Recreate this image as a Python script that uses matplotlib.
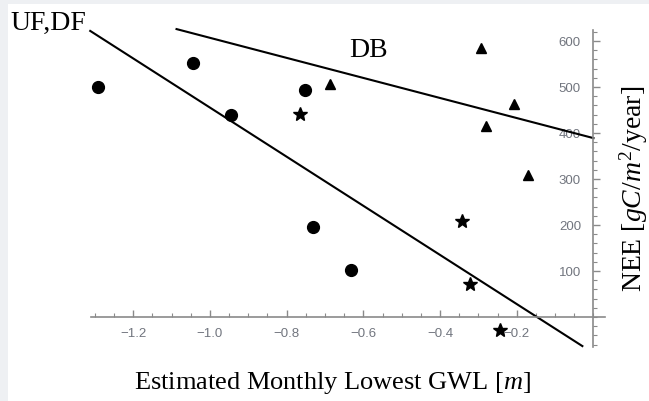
import numpy as np
import matplotlib
matplotlib.use("Agg")
import matplotlib.pyplot as plt
from matplotlib.patches import Rectangle
from matplotlib.ticker import MultipleLocator, FuncFormatter

plt.rcParams['mathtext.fontset'] = 'custom'
plt.rcParams['mathtext.rm'] = 'Liberation Serif'
plt.rcParams['mathtext.it'] = 'Liberation Serif:italic'

# UF,DF sites (circles)
circ_x = [-1.293, -1.043, -0.944, -0.751, -0.730, -0.631]
circ_y = [500, 552, 439, 493, 196, 102]
# DB sites (triangles)
tri_x = [-0.686, -0.292, -0.206, -0.279, -0.172]
tri_y = [507, 585, 463, 415, 309]
# stars
star_x = [-0.764, -0.344, -0.321, -0.245]
star_y = [441, 209, 72, -28]

# regression lines (end points)
ufdf_line_x = [-1.312, -0.029]
ufdf_line_y = [622, -63]
db_line_x = [-1.087, 0.0]
db_line_y = [626, 389]

xticks = [-1.2, -1.0, -0.8, -0.6, -0.4, -0.2]
yticks = [100, 200, 300, 400, 500, 600]

fig = plt.figure(figsize=(6.49, 4.01), dpi=100, facecolor='#eef0f3')
fig.patches.append(Rectangle((8/649, 0), 1, 1 - 4/401, transform=fig.transFigure,
                             facecolor='white', edgecolor='none', zorder=-10))

ax = fig.add_axes([91/649, 1 - 347/401, (605 - 91)/649, (347 - 30)/401])
ax.set_zorder(1)
ax.patch.set_alpha(0)
ax.set_xlim(-1.31, 0.03)
ax.set_ylim(-65, 624)

gray = '#8a8a8a'
for s in ['top', 'right']:
    ax.spines[s].set_visible(False)
ax.spines['left'].set_position(('data', 0))
ax.spines['bottom'].set_position(('data', 0))
for s in ['left', 'bottom']:
    ax.spines[s].set_color(gray)
    ax.spines[s].set_linewidth(1.2)

ax.set_xticks(xticks)
ax.set_yticks(yticks)
ax.xaxis.set_minor_locator(MultipleLocator(0.05))
ax.yaxis.set_minor_locator(MultipleLocator(20))
fmt = FuncFormatter(lambda v, p: ('%.1f' % v).replace('-', '\u2212'))
ax.xaxis.set_major_formatter(fmt)
ax.tick_params(axis='both', which='major', direction='in', length=5, width=1, color=gray,
               labelcolor='#71757e', labelsize=9.5)
ax.tick_params(axis='x', which='major', pad=7.5)
ax.tick_params(axis='y', which='major', pad=9)
ax.tick_params(axis='both', which='minor', direction='in', length=3, width=0.8, color=gray)
for lab in ax.get_xticklabels() + ax.get_yticklabels():
    lab.set_fontfamily('Liberation Sans')

ax.plot(ufdf_line_x, ufdf_line_y, color='black', lw=1.5, clip_on=False)
ax.plot(db_line_x, db_line_y, color='black', lw=1.5, clip_on=False)

ax.plot(circ_x, circ_y, 'o', color='black', ms=8.5, clip_on=False)
ax.plot(tri_x, tri_y, '^', color='black', ms=7, clip_on=False)
ax.plot(star_x, star_y, '*', color='black', ms=10, clip_on=False)

fig.text(10/649, 1 - 30/401, 'UF,DF', fontfamily='Liberation Serif', fontsize=20,
         ha='left', va='baseline')
fig.text(349/649, 1 - 57/401, 'DB', fontfamily='Liberation Serif', fontsize=20,
         ha='left', va='baseline')
fig.text(332/649, 1 - 383/401, 'Estimated Monthly Lowest GWL [$m$]',
         fontfamily='Liberation Serif', fontsize=19, ha='center', va='center')
fig.text(634/649, 1 - 189/401, 'NEE [$gC/m^2$/year]', fontfamily='Liberation Serif',
         fontsize=20, rotation=90, ha='center', va='center')

fig.savefig('out.png', dpi=100, facecolor=fig.get_facecolor())
